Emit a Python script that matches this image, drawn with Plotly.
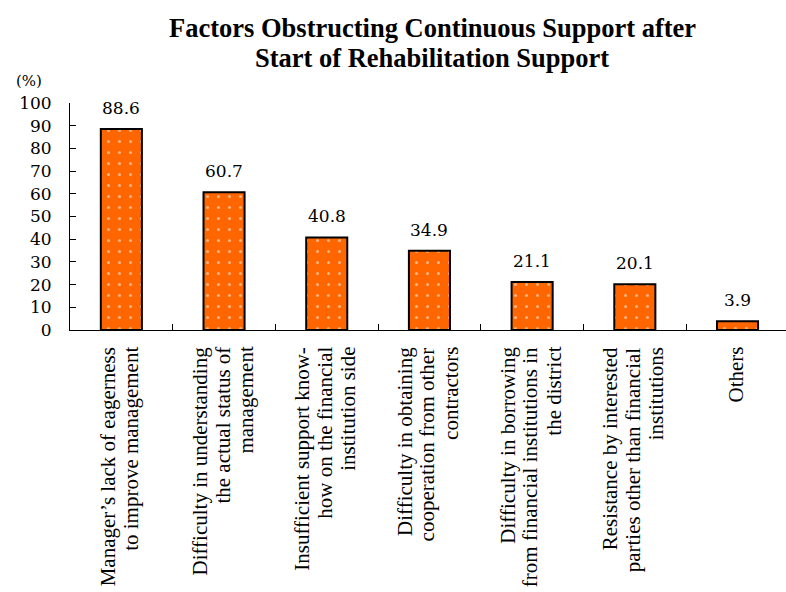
import plotly.graph_objects as go

# Survey results: share of respondents (%) citing each obstacle
categories = [
    ["Manager’s lack of eagerness", "to improve management"],
    ["Difficulty in understanding", "the actual status of", "management"],
    ["Insufficient support know-", "how on the financial", "institution side"],
    ["Difficulty in obtaining", "cooperation from other", "contractors"],
    ["Difficulty in borrowing", "from financial institutions in", "the district"],
    ["Resistance by interested", "parties other than financial", "institutions"],
    ["Others"],
]
values = [88.6, 60.7, 40.8, 34.9, 21.1, 20.1, 3.9]
y_ticks = list(range(0, 101, 10))
title_lines = ["Factors Obstructing Continuous Support after",
               "Start of Rehabilitation Support"]

W, H = 786, 592
PLOT_L, PLOT_T, PLOT_B = 70, 103, 330
ORANGE = "#FF6600"
NUM_FONT = "DejaVu Serif"
TXT_FONT = "Liberation Serif"
LINE_PITCH = 23  # px between wrapped lines of a category label


def px_to_paper(px, py):
    return (px - PLOT_L) / (W - PLOT_L), (PLOT_B - py) / (PLOT_B - PLOT_T)


x_pos = list(range(len(categories)))

fig = go.Figure(
    go.Bar(
        x=x_pos,
        y=values,
        width=0.4,
        marker=dict(
            color=ORANGE,
            line=dict(color="black", width=2),
            pattern=dict(shape=".", fgcolor="white", bgcolor=ORANGE,
                         size=11, solidity=0.06),
        ),
        cliponaxis=False,
        hoverinfo="skip",
    )
)

# Value labels above each bar
for i, v in enumerate(values):
    fig.add_annotation(
        x=i, y=v, xref="x", yref="y", text=f"{v:.1f}",
        xanchor="center", yanchor="bottom", yshift=9, showarrow=False,
        font=dict(family=NUM_FONT, size=17, color="black"),
    )

# Rotated category labels, one annotation per wrapped line,
# each line ending just below the axis (right-aligned when read)
for i, lines in enumerate(categories):
    n = len(lines)
    for k, line in enumerate(lines):
        fig.add_annotation(
            x=i, xref="x", y=0, yref="paper",
            xshift=(k - (n - 1) / 2) * LINE_PITCH - 2, yshift=-15,
            text=line, textangle=-90,
            xanchor="center", yanchor="top", showarrow=False,
            font=dict(family=TXT_FONT, size=21, color="black"),
        )

# Chart title (two centred lines)
for py, line in zip([28, 58], title_lines):
    tx, ty = px_to_paper(432, py)
    fig.add_annotation(
        x=tx, y=ty, xref="paper", yref="paper", text=f"<b>{line}</b>",
        xanchor="center", yanchor="middle", showarrow=False,
        font=dict(family=TXT_FONT, size=26.5, color="black"),
    )

# Unit label above the value axis
ux, uy = px_to_paper(29, 81)
fig.add_annotation(
    x=ux, y=uy, xref="paper", yref="paper", text="(%)",
    xanchor="center", yanchor="middle", showarrow=False,
    font=dict(family=NUM_FONT, size=15, color="black"),
)

fig.update_layout(
    width=W, height=H,
    margin=dict(l=PLOT_L, r=0, t=PLOT_T, b=H - PLOT_B, pad=0),
    paper_bgcolor="white", plot_bgcolor="white",
    showlegend=False,
    xaxis=dict(
        range=[-0.5, 6.472], tickmode="array",
        tickvals=[i + 0.5 for i in range(-1, len(categories))],
        ticktext=["" for _ in range(len(categories) + 1)],
        showline=True, linecolor="black", linewidth=1,
        ticks="inside", ticklen=6, tickcolor="black", tickwidth=1,
        showgrid=False, zeroline=False, fixedrange=True,
    ),
    yaxis=dict(
        range=[0, 100], tickvals=y_ticks,
        showline=True, linecolor="black", linewidth=1,
        ticks="inside", ticklen=6, tickcolor="black", tickwidth=1,
        showgrid=False, zeroline=False,
        tickfont=dict(family=NUM_FONT, size=17, color="black"),
        ticklabelstandoff=14,
    ),
)

fig.write_html("out.html")
